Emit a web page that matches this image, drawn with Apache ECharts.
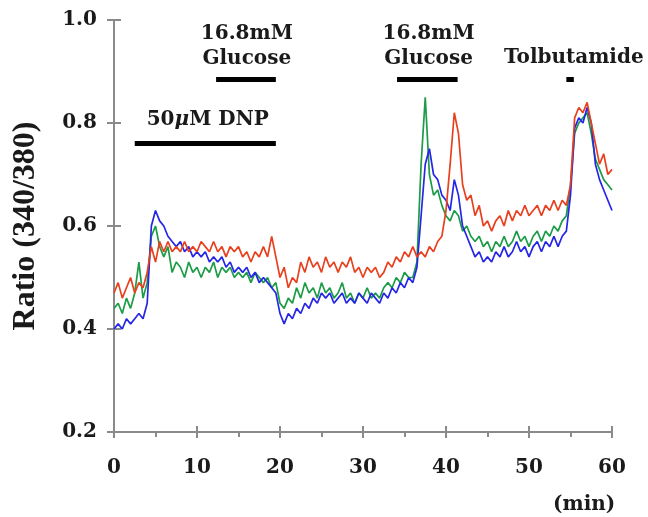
<!DOCTYPE html>
<html>
<head>
<meta charset="utf-8">
<script src="https://cdn.jsdelivr.net/npm/echarts@6/dist/echarts.min.js"></script>
<style>
  html, body { margin: 0; padding: 0; background: #fff; }
  #chart { width: 648px; height: 517px; }
</style>
</head>
<body>
<div id="chart"></div>
<script>
// sampling step of the recordings (min)
const step = 0.5

const redTrace = [
  0.47, 0.49, 0.46, 0.48, 0.50, 0.47, 0.49, 0.48, 0.51, 0.56,
  0.53, 0.57, 0.55, 0.57, 0.55, 0.56, 0.55, 0.57, 0.55, 0.56,
  0.55, 0.57, 0.56, 0.55, 0.57, 0.55, 0.56, 0.54, 0.56, 0.55,
  0.56, 0.54, 0.55, 0.53, 0.55, 0.54, 0.56, 0.54, 0.58, 0.54,
  0.50, 0.52, 0.48, 0.50, 0.49, 0.53, 0.51, 0.54, 0.52, 0.53,
  0.51, 0.54, 0.52, 0.53, 0.51, 0.53, 0.52, 0.54, 0.51, 0.52,
  0.50, 0.52, 0.51, 0.52, 0.50, 0.51, 0.53, 0.52, 0.54, 0.53,
  0.55, 0.54, 0.56, 0.54, 0.55, 0.54, 0.56, 0.55, 0.57, 0.58,
  0.63, 0.72, 0.82, 0.78, 0.68, 0.65, 0.66, 0.62, 0.64, 0.60,
  0.61, 0.59, 0.61, 0.62, 0.60, 0.63, 0.61, 0.63, 0.62, 0.64,
  0.62, 0.63, 0.64, 0.62, 0.64, 0.63, 0.65, 0.63, 0.65, 0.64,
  0.68, 0.81, 0.83, 0.82, 0.84, 0.80, 0.76, 0.72, 0.74, 0.70,
  0.71
]

const greenTrace = [
  0.44, 0.45, 0.43, 0.46, 0.44, 0.47, 0.53, 0.46, 0.49, 0.58,
  0.60, 0.56, 0.54, 0.56, 0.51, 0.53, 0.52, 0.50, 0.53, 0.51,
  0.52, 0.50, 0.52, 0.51, 0.53, 0.50, 0.52, 0.51, 0.52, 0.50,
  0.51, 0.50, 0.51, 0.49, 0.51, 0.50, 0.49, 0.50, 0.48, 0.49,
  0.45, 0.44, 0.46, 0.45, 0.48, 0.46, 0.49, 0.47, 0.48, 0.46,
  0.49, 0.47, 0.48, 0.46, 0.47, 0.49, 0.46, 0.47, 0.45, 0.47,
  0.46, 0.48, 0.46, 0.47, 0.46, 0.48, 0.49, 0.48, 0.50, 0.49,
  0.51, 0.50, 0.50, 0.53, 0.72, 0.85, 0.70, 0.66, 0.67, 0.64,
  0.62, 0.61, 0.63, 0.62, 0.59, 0.60, 0.58, 0.57, 0.58, 0.56,
  0.57, 0.55, 0.57, 0.56, 0.58, 0.56, 0.57, 0.59, 0.57, 0.58,
  0.56, 0.58, 0.59, 0.57, 0.59, 0.58, 0.60, 0.59, 0.61, 0.62,
  0.68, 0.78, 0.80, 0.81, 0.82, 0.78, 0.73, 0.71, 0.69, 0.68,
  0.67
]

const blueTrace = [
  0.40, 0.41, 0.40, 0.42, 0.41, 0.42, 0.43, 0.42, 0.45, 0.60,
  0.63, 0.61, 0.60, 0.58, 0.57, 0.56, 0.57, 0.55, 0.56, 0.54,
  0.55, 0.54, 0.55, 0.53, 0.54, 0.53, 0.54, 0.52, 0.53, 0.51,
  0.52, 0.51, 0.52, 0.50, 0.51, 0.49, 0.50, 0.49, 0.48, 0.47,
  0.43, 0.41, 0.43, 0.42, 0.44, 0.43, 0.45, 0.44, 0.46, 0.45,
  0.47, 0.46, 0.47, 0.45, 0.46, 0.47, 0.45, 0.46, 0.45, 0.47,
  0.46, 0.45, 0.47, 0.46, 0.45, 0.47, 0.46, 0.48, 0.47, 0.49,
  0.48, 0.50, 0.49, 0.52, 0.62, 0.72, 0.75, 0.70, 0.69, 0.66,
  0.65, 0.63, 0.69, 0.66, 0.60, 0.58, 0.56, 0.54, 0.55, 0.53,
  0.54, 0.53, 0.55, 0.54, 0.56, 0.54, 0.55, 0.57, 0.55, 0.56,
  0.54, 0.56, 0.57, 0.55, 0.57, 0.56, 0.58, 0.56, 0.58, 0.59,
  0.66, 0.79, 0.81, 0.80, 0.83, 0.80, 0.72, 0.69, 0.67, 0.65,
  0.63
]

// treatment bars: [start, end, level]
const dnpBar = [2.5, 19.5, 0.761]
const glucoseBars = [[12.3, 19.5, 0.884], [34.1, 41.4, 0.884]]
const tolbBar = [54.5, 55.4, 0.884]

// annotation labels: [text, t, ratio]
const notes = [
  ['16.8mM\nGlucose', 16.0, 0.948],
  ['16.8mM\nGlucose', 37.9, 0.948],
  ['Tolbutamide', 55.4, 0.927],
  ['50{mu|μ}M DNP', 11.3, 0.806]
]

const xTicks = [0, 10, 20, 30, 40, 50, 60]
const yTicks = [0.2, 0.4, 0.6, 0.8, 1.0]

const axisGray = '#8a8a8a'
const fontFam = 'DejaVu Serif'

function toPairs(arr) {
  return arr.map((v, i) => [i * step, v])
}

function barLine(b) {
  return [{ coord: [b[0], b[2]] }, { coord: [b[1], b[2]] }]
}

const myChart = echarts.init(document.getElementById('chart'))

const option = {
  animation: false,
  backgroundColor: '#fff',
  grid: { left: 114, right: 36, top: 20, bottom: 85 },
  xAxis: [
    {
      type: 'value', min: xTicks[0], max: xTicks[xTicks.length - 1], interval: 10,
      position: 'bottom', offset: 0,
      axisLine: { lineStyle: { color: axisGray, width: 2 } },
      axisTick: { length: 6, lineStyle: { color: axisGray, width: 2 } },
      minorTick: { show: true, splitNumber: 2, length: 5, lineStyle: { color: axisGray, width: 2 } },
      splitLine: { show: false },
      axisLabel: { margin: 26, color: '#1a1a1a', fontFamily: fontFam, fontWeight: 'bold', fontSize: 20 }
    },
    {
      type: 'value', min: xTicks[0], max: xTicks[xTicks.length - 1], interval: 10,
      position: 'bottom', offset: 0,
      axisLine: { show: false },
      axisTick: { inside: true, length: 6, lineStyle: { color: axisGray, width: 2 } },
      splitLine: { show: false },
      axisLabel: { show: false }
    }
  ],
  yAxis: [
    {
      type: 'value', min: yTicks[0], max: yTicks[yTicks.length - 1], interval: 0.2,
      position: 'left', offset: 0,
      name: 'Ratio (340/380)', nameLocation: 'middle', nameGap: 72,
      nameTextStyle: { color: '#1a1a1a', fontFamily: 'Liberation Serif', fontWeight: 'bold', fontSize: 32 },
      axisLine: { lineStyle: { color: axisGray, width: 2 } },
      axisTick: { length: 7, lineStyle: { color: axisGray, width: 2 } },
      splitLine: { show: false },
      axisLabel: {
        margin: 17, color: '#1a1a1a', fontFamily: fontFam, fontWeight: 'bold', fontSize: 20,
        formatter: (v) => v.toFixed(1)
      }
    },
    {
      type: 'value', min: yTicks[0], max: yTicks[yTicks.length - 1], interval: 0.2,
      position: 'left', offset: 0,
      axisLine: { show: false },
      axisTick: { inside: true, length: 7, lineStyle: { color: axisGray, width: 2 } },
      splitLine: { show: false },
      axisLabel: { show: false }
    }
  ],
  series: [
    {
      name: 'green', type: 'line', showSymbol: false, data: toPairs(greenTrace),
      lineStyle: { color: '#1c9c46', width: 1.7 }, z: 2
    },
    {
      name: 'blue', type: 'line', showSymbol: false, data: toPairs(blueTrace),
      lineStyle: { color: '#2626e6', width: 1.7 }, z: 3
    },
    {
      name: 'red', type: 'line', showSymbol: false, data: toPairs(redTrace),
      lineStyle: { color: '#e8401e', width: 1.7 }, z: 4,
      markLine: {
        silent: true, symbol: ['none', 'none'],
        label: { show: false },
        lineStyle: { color: '#000', width: 5, type: 'solid' },
        data: [barLine(dnpBar), barLine(glucoseBars[0]), barLine(glucoseBars[1]), barLine(tolbBar)]
      },
      markPoint: {
        silent: true, symbol: 'circle', symbolSize: 0,
        data: notes.map((n) => ({
          coord: [n[1], n[2]],
          label: {
            show: true, position: 'inside', formatter: n[0],
            color: '#1a1a1a', fontFamily: fontFam, fontWeight: 'bold', fontSize: 20,
            lineHeight: 25, align: 'center',
            rich: { mu: { fontFamily: fontFam, fontStyle: 'italic', fontWeight: 'bold', fontSize: 20 } }
          }
        }))
      }
    }
  ],
  graphic: [
    {
      type: 'text', left: 553, top: 495,
      style: { text: '(min)', fill: '#1a1a1a', font: 'bold 20px "DejaVu Serif"' }
    }
  ]
}

myChart.setOption(option)
</script>
</body>
</html>
